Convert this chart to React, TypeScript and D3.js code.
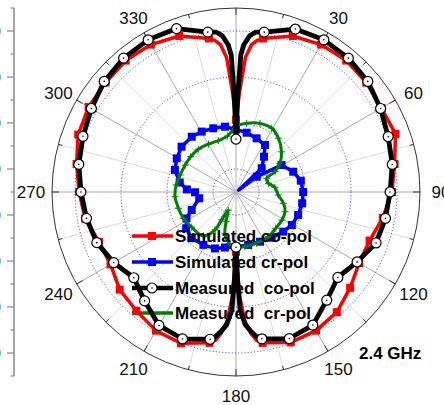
import React from 'react';
import * as d3 from 'd3';

const W = 444, H = 405, CX = 236, CY = 192, R = 184;

// radial scale (dB)
const rDomain: [number, number] = [-35, 5];
const rMajorTicks = [-30, -20, -10, 0];
const angleLabels = [30, 60, 90, 120, 150, 180, 210, 240, 270, 300, 330];
const legendLabels = ['Simulated co-pol', 'Simulated cr-pol', 'Measured  co-pol', 'Measured  cr-pol'];
const legendColors = ['#ff0000', '#0000ff', '#000000', '#008000'];
const freqLabel = '2.4 GHz';

// [angle deg, value dB]
const simCoPol: [number, number][] = [
  [0, -19.3], [2, -13.3], [4, -5.7], [6, -2.8], [8, -1.7], [10, -1.1], [20, 1.1], [30, 2.0], [40, 2.3],
  [50, 2.0], [60, 1.5], [70, 1.9], [80, 0.0], [90, -1.1], [100, -2.6], [110, -4.1], [120, -4.1],
  [130, -2.6], [140, -0.9], [150, -0.2], [160, -0.2], [170, -1.7], [172, -2.4], [174, -4.1],
  [176, -6.7], [178, -12.2], [180, -22.0], [182, -12.2], [184, -6.7], [186, -4.1], [188, -2.4],
  [190, -1.7], [200, 0.0], [210, -0.2], [220, -1.3], [230, -2.0], [240, -3.5], [250, -3.3],
  [260, -1.7], [270, -0.9], [280, 0.2], [290, 1.5], [300, 2.0], [310, 2.0], [320, 2.3], [330, 2.0],
  [340, 1.1], [350, -1.1], [352, -1.7], [354, -2.8], [356, -5.7], [358, -13.3],
];

const measCoPol: [number, number][] = [
  [0, -23.5], [1, -14.3], [2, -5.2], [3, -3.0], [5, -0.9], [7, 0.0], [10, 0.3], [20, 2.7], [30, 3.2],
  [40, 3.0], [50, 2.4], [60, 1.3], [70, 0.2], [80, -0.5], [90, -1.5], [100, -2.0], [110, -2.6],
  [120, -4.6], [130, -6.1], [140, -4.3], [150, -1.6], [160, -1.1], [170, -2.6], [172, -3.3],
  [174, -4.6], [176, -6.1], [178, -9.3], [179, -15.9], [180, -23.0], [181, -15.9], [182, -9.3],
  [184, -6.1], [186, -4.6], [188, -3.3], [190, -2.5], [200, -1.0], [210, -1.5], [220, -4.1],
  [230, -6.0], [240, -4.3], [250, -2.8], [260, -2.0], [270, -1.3], [280, -0.3], [290, 0.4],
  [300, 1.3], [310, 2.4], [320, 3.0], [330, 3.2], [340, 2.8], [350, 0.3], [353, 0.0], [355, -0.9],
  [357, -3.0], [358, -5.2], [359, -14.3],
];

const simCrPol: [number, number][] = [
  [0, -21.4], [10.2, -21.9], [21, -22.5], [31.7, -23.0], [38.4, -25.2], [47.3, -27.4], [55, -34.3],
  [53.5, -29.4], [59.4, -23.5], [70.5, -21.8], [80.1, -20.7], [90, -20.4], [99.7, -20.4],
  [110.3, -20.6], [120.6, -20.9], [130, -21.6], [142, -22.4], [154.2, -23.0], [167, -23.2],
  [180, -23.1], [191.2, -22.7], [200.5, -21.9], [211.7, -21.5], [223.7, -21.1], [234, -21.6],
  [241.9, -22.8], [247.9, -24.6], [260.3, -26.9], [269.6, -26.1], [273, -24.3], [279.6, -22.6],
  [289.8, -20.9], [299.6, -20.2], [309.8, -19.6], [321.3, -19.6], [330.4, -19.9], [340.4, -20.3],
  [350.4, -20.6],
];

const measCrPol: [number, number][] = [
  [0, -20.8], [8.8, -19.9], [19.3, -19.2], [29.3, -19.1], [38.2, -20.1], [48.6, -21.8], [56.9, -23.6],
  [62.5, -25.4], [66, -27.7], [75, -27.7], [83, -26.5], [94, -25.8], [103.4, -24.4], [111.9, -23.5],
  [121.5, -23.3], [132.2, -23.3], [144.1, -23.0], [158, -23.0], [170.7, -23.0], [180, -23.0],
  [187.4, -23.7], [194.9, -25.7], [198.6, -28.2], [203.2, -30.7], [207, -28.2], [208.9, -25.6],
  [216.6, -23.1], [231.5, -22.7], [243.5, -22.2], [254.2, -22.0], [265.6, -21.7], [276.7, -21.9],
  [286.9, -22.3], [297.9, -22.5], [307.9, -22.5], [318.6, -22.6], [330, -23.0], [341, -23.2],
  [351.2, -22.7],
];

const rScale = d3.scaleLinear().domain(rDomain).range([0, R]);
const rad = (deg: number) => (deg * Math.PI) / 180;
const px = (a: number, r: number) => CX + r * Math.sin(rad(a));
const py = (a: number, r: number) => CY - r * Math.cos(rad(a));

const radialPath = (data: [number, number][], curve: d3.CurveFactory) =>
  d3.lineRadial<[number, number]>()
    .angle(d => rad(d[0]))
    .radius(d => rScale(d[1]))
    .curve(curve)(data) || '';

const FONT = 'Liberation Sans, Arial, Helvetica, sans-serif';

export default function App() {
  const gridAngles = d3.range(0, 360, 15);
  const axisTicks = d3.range(0, 17).map(k => ({ y: CY - R + (k * R) / 8, major: k % 2 === 1 }));
  const legendY = [236, 262, 288, 313];
  return (
    <svg width={W} height={H} style={{ position: 'absolute', left: 0, top: 0, background: '#fff' }}>
      <rect width={W} height={H} fill="#fff" />
      {/* radial grid lines */}
      {gridAngles.map(a => (
        <line key={'g' + a} x1={CX} y1={CY} x2={px(a, R)} y2={py(a, R)}
          stroke={a % 30 === 0 ? '#959595' : '#d2d2d2'} strokeWidth={0.8} />
      ))}
      {/* dotted circles */}
      {rMajorTicks.map(v => (
        <circle key={'c' + v} cx={CX} cy={CY} r={rScale(v)} fill="none" stroke="#2222ee"
          strokeWidth={0.8} strokeDasharray="1.2 2" />
      ))}
      {/* outer circle */}
      <circle cx={CX} cy={CY} r={R} fill="none" stroke="#333" strokeWidth={1} />
      {gridAngles.map(a => {
        const inner = a % 30 === 0 ? R - 7 : R - 4;
        return <line key={'t' + a} x1={px(a, inner)} y1={py(a, inner)} x2={px(a, R)} y2={py(a, R)} stroke="#333" strokeWidth={1} />;
      })}
      {/* angle labels */}
      {angleLabels.map(a => (
        <text key={'l' + a} x={px(a, 205)} y={py(a, 204) + 6 + (Math.cos(rad(a)) > 0.1 ? 2.5 : 0)} textAnchor="middle"
          fontFamily={FONT} fontSize={17} fill="#111">{a}</text>
      ))}
      {/* left radial axis */}
      <line x1={14} y1={CY - R} x2={14} y2={CY + R} stroke="#888" strokeWidth={1.5} />
      {axisTicks.map((t, i) => (
        <line key={'at' + i} x1={t.major ? 7 : 10.5} y1={t.y} x2={14} y2={t.y} stroke="#888" strokeWidth={1.2} />
      ))}
      {rMajorTicks.map(v => (
        <React.Fragment key={'al' + v}>
          <text x={1} y={CY - rScale(v) + 6} textAnchor="end" fontFamily={FONT} fontSize={17} fill="#111">{v}</text>
          <text x={1} y={CY + rScale(v) + 6} textAnchor="end" fontFamily={FONT} fontSize={17} fill="#111">{v}</text>
        </React.Fragment>
      ))}

      {/* simulated cross-pol (blue) */}
      <path d={radialPath(simCrPol, d3.curveLinearClosed)} transform={`translate(${CX},${CY})`}
        fill="none" stroke="#0000ff" strokeWidth={3.5} strokeLinejoin="round" />
      {simCrPol.filter(d => d[1] > -33).map((d, i) => (
        <rect key={'bs' + i} x={px(d[0], rScale(d[1])) - 4} y={py(d[0], rScale(d[1])) - 4} width={8} height={8} fill="#0000ff" />
      ))}

      {/* measured cross-pol (green) */}
      <path d={radialPath(measCrPol, d3.curveCatmullRomClosed)} transform={`translate(${CX},${CY})`}
        fill="none" stroke="#008000" strokeWidth={3} />
      {measCrPol.map((d, i) => {
        const x = px(d[0], rScale(d[1])), y = py(d[0], rScale(d[1]));
        return (
          <path key={'gp' + i} d={`M${x - 3.5},${y}H${x + 3.5}M${x},${y - 3.5}V${y + 3.5}`} stroke="#008000" strokeWidth={1} />
        );
      })}

      {/* legend */}
      {legendLabels.map((lab, i) => {
        const y = legendY[i];
        const c = legendColors[i];
        return (
          <g key={'lg' + i}>
            <line x1={132} y1={y} x2={173} y2={y} stroke={c} strokeWidth={i === 2 ? 4.5 : 3.5} />
            {i < 2 && <rect x={148} y={y - 4} width={8} height={8} fill={c} />}
            {i === 2 && <g><circle cx={152} cy={y} r={5} fill="#fff" stroke="#000" strokeWidth={1.2} /><circle cx={152} cy={y} r={0.8} fill="#000" /></g>}
            {i === 3 && <path d={`M148.5,${y}H155.5M152,${y - 3.5}V${y + 3.5}`} stroke={c} strokeWidth={1} />}
            <text x={175} y={y + 6} fontFamily={FONT} fontWeight="bold" fontSize={17} fill="#000"
              style={{ whiteSpace: 'pre' }}>{lab}</text>
          </g>
        );
      })}

      {/* simulated co-pol (red) */}
      <path d={radialPath(simCoPol, d3.curveLinearClosed)} transform={`translate(${CX},${CY})`}
        fill="none" stroke="#ff0000" strokeWidth={3.5} strokeLinejoin="round" />
      {simCoPol.filter(d => d[0] % 10 === 0).map((d, i) => (
        <rect key={'rs' + i} x={px(d[0], rScale(d[1])) - 4} y={py(d[0], rScale(d[1])) - 4} width={8} height={8} fill="#ff0000" />
      ))}

      {/* measured co-pol (black) */}
      <path d={radialPath(measCoPol, d3.curveLinearClosed)} transform={`translate(${CX},${CY})`}
        fill="none" stroke="#000" strokeWidth={4.8} strokeLinejoin="round" />
      {measCoPol.filter(d => d[0] % 10 === 0).map((d, i) => {
        const x = px(d[0], rScale(d[1])), y = py(d[0], rScale(d[1]));
        return (
          <g key={'bc' + i}>
            <circle cx={x} cy={y} r={5} fill="#fff" stroke="#000" strokeWidth={1.2} />
            <circle cx={x} cy={y} r={0.8} fill="#000" />
          </g>
        );
      })}

      <text x={359} y={359} fontFamily={FONT} fontWeight="bold" fontSize={17} fill="#000">{freqLabel}</text>
    </svg>
  );
}
